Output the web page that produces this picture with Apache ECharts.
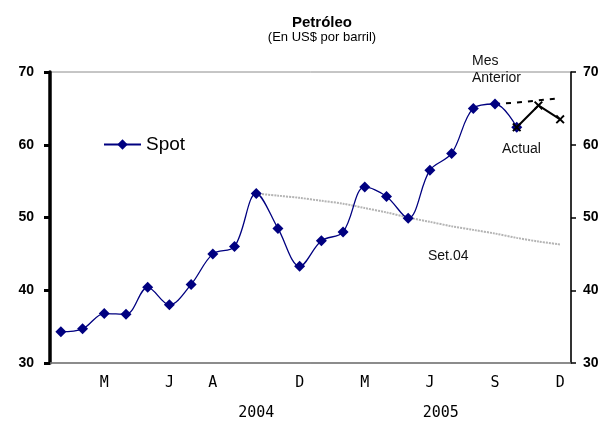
<!DOCTYPE html>
<html>
<head>
<meta charset="utf-8">
<script src="https://cdn.jsdelivr.net/npm/echarts@6/dist/echarts.min.js"></script>
<style>
  html, body { margin: 0; padding: 0; background: #fff; }
  #chart { width: 603px; height: 421px; }
</style>
</head>
<body>
<div id="chart"></div>
<script>
// months Jan 2004 - Dec 2005 (Spanish initials)
var months = ["E","F","M","A","M","J","J","A","S","O","N","D",
              "E","F","M","A","M","J","J","A","S","O","N","D"];
var shownMonths = [2, 5, 7, 11, 14, 17, 20, 23];
var years = ["2004", "2005"];
var yearAt = [9, 17.5];

var spot = [34.3, 34.7, 36.8, 36.7, 40.4, 38.0, 40.8, 45.0, 46.0, 53.3, 48.5, 43.3,
            46.8, 48.0, 54.2, 52.9, 49.9, 56.5, 58.8, 65.0, 65.6, 62.4, null, null];
var actual = [null, null, null, null, null, null, null, null, null, null, null, null,
              null, null, null, null, null, null, null, null, null, 62.4, 65.4, 63.5];
var mesAnterior = [null, null, null, null, null, null, null, null, null, null, null, null,
                   null, null, null, null, null, null, null, null, 65.6, 65.8, 66.1, 66.4];
var set04 = [null, null, null, null, null, null, null, null, null, 53.3, 53.0, 52.7,
             52.3, 51.9, 51.3, 50.7, 50.0, 49.4, 48.8, 48.3, 47.8, 47.2, 46.7, 46.3];

var xMark = "path://M0,1.5L1.5,0L5,3.5L8.5,0L10,1.5L6.5,5L10,8.5L8.5,10L5,6.5L1.5,10L0,8.5L3.5,5Z";
var font = "Liberation Sans";

var chartDom = document.getElementById("chart");
var myChart = echarts.init(chartDom);
var option;

option = {
  animation: false,
  backgroundColor: "#fff",
  title: {
    text: "Petróleo",
    subtext: "(En US$ por barril)",
    left: 317,
    textAlign: "center",
    top: 10,
    itemGap: 1,
    textStyle: { fontFamily: font, fontWeight: "bold", fontSize: 15, color: "#000" },
    subtextStyle: { fontFamily: font, fontSize: 13, color: "#000" },
  },
  legend: {
    data: ["Spot"],
    left: 98,
    top: 130,
    itemWidth: 37,
    itemHeight: 13,
    itemGap: 4,
    textStyle: { fontFamily: font, fontSize: 19, color: "#000" },
  },
  grid: {
    left: 50,
    right: 32,
    top: 72,
    bottom: 56,
    show: true,
    borderColor: "#8c8c8c",
    borderWidth: 1,
  },
  xAxis: [
    {
      type: "category",
      data: months,
      boundaryGap: true,
      axisLine: { show: true, lineStyle: { color: "#7a7a7a", width: 1.5 } },
      axisTick: { show: false },
      axisLabel: {
        interval: function (idx) { return shownMonths.indexOf(idx) >= 0; },
        fontFamily: "DejaVu Sans Mono",
        fontSize: 15,
        color: "#000",
        margin: 13,
      },
      splitLine: { show: false },
    },
    {
      type: "value",
      position: "bottom",
      min: -0.5,
      max: 23.5,
      offset: 34,
      axisLine: { show: false, onZero: false },
      axisTick: { show: false },
      splitLine: { show: false },
      axisLabel: {
        customValues: yearAt,
        formatter: function (v) { return years[yearAt.indexOf(v)]; },
        fontFamily: "DejaVu Sans Mono",
        fontSize: 15,
        color: "#000",
        margin: 9,
      },
    },
  ],
  yAxis: [
    {
      type: "value",
      min: 30,
      max: 70,
      interval: 10,
      position: "left",
      axisLine: { show: true, onZero: false, lineStyle: { color: "#000", width: 3.5 } },
      axisTick: { show: true, length: 6, lineStyle: { color: "#000", width: 3 } },
      axisLabel: { fontFamily: font, fontWeight: "bold", fontSize: 14, color: "#000", margin: 16 },
      splitLine: { show: false },
    },
    {
      type: "value",
      min: 30,
      max: 70,
      interval: 10,
      position: "right",
      axisLine: { show: true, onZero: false, lineStyle: { color: "#000", width: 1.5 } },
      axisTick: { show: true, length: 5, lineStyle: { color: "#000", width: 1.5 } },
      axisLabel: { fontFamily: font, fontWeight: "bold", fontSize: 14, color: "#000", margin: 12 },
      splitLine: { show: false },
    },
  ],
  graphic: [
    { type: "text", left: 472, top: 53, style: { text: "Mes\nAnterior", font: "14px Liberation Sans", fill: "#111", lineHeight: 17 } },
    { type: "text", left: 502, top: 142, style: { text: "Actual", font: "14px Liberation Sans", fill: "#111" } },
    { type: "text", left: 428, top: 249, style: { text: "Set.04", font: "14px Liberation Sans", fill: "#111" } },
  ],
  series: [
    {
      name: "Set.04",
      type: "line",
      data: set04,
      smooth: 0.3,
      showSymbol: false,
      symbol: "none",
      lineStyle: { color: "#b4b4b4", width: 2, type: [2, 1] },
      z: 1,
    },
    {
      name: "Mes Anterior",
      type: "line",
      data: mesAnterior,
      showSymbol: false,
      symbol: "none",
      lineStyle: { color: "#000", width: 2, type: [5, 6] },
      z: 2,
    },
    {
      name: "Spot",
      type: "line",
      data: spot,
      smooth: 0.35,
      symbol: "diamond",
      symbolSize: 11,
      itemStyle: { color: "#000080" },
      lineStyle: { color: "#000080", width: 1.3 },
      z: 3,
    },
    {
      name: "Actual",
      type: "line",
      data: actual,
      symbol: xMark,
      symbolSize: 9,
      itemStyle: { color: "#000" },
      lineStyle: { color: "#000", width: 2 },
      z: 4,
    },
  ],
};

option && myChart.setOption(option);
</script>
</body>
</html>
